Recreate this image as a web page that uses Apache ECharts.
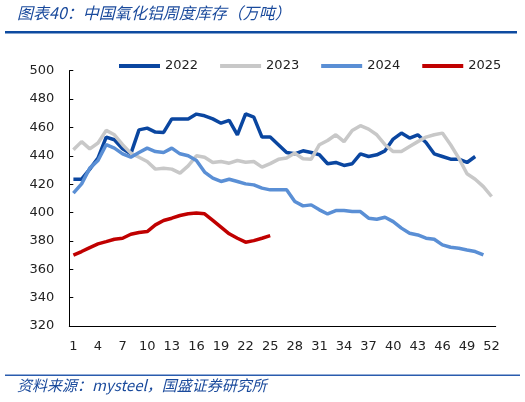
<!DOCTYPE html>
<html>
<head>
<meta charset="utf-8">
<script src="https://cdn.jsdelivr.net/npm/echarts@6/dist/echarts.min.js"></script>
<style>
html,body{margin:0;padding:0;background:#fff;}
#c{width:525px;height:402px;}
</style>
</head>
<body>
<div id="c"></div>
<script>
var weeks = [];
for (var w = 1; w <= 52; w++) weeks.push(String(w));

var seriesNames = ['2022', '2023', '2024', '2025'];

var d2022 = [423.5,423.5,430.6,438.4,453.2,451.3,445,441.4,458.3,459.5,
             456.7,456.5,466,466,466,469.4,468.2,466,463,465,
             454.8,469.5,467.3,453.2,453.2,447.8,442.3,441.4,443.5,442.3,
             440.7,434.4,435.3,433.2,434.4,441.4,439.5,440.7,443.5,451.8,
             456,452.5,454.8,449.4,441.4,439.5,437.6,437.6,435.3,439.5];

var d2023 = [444.2,450,444.9,449,457.9,454.8,447.8,441.9,439,436,
             430.6,431.3,430.6,427.8,432.9,440,439,435.3,436,434.8,
             436.7,435.5,436,432,434.5,437.5,438.5,441.9,437.9,437.6,
             447.8,450.8,454.8,450,457.9,461.2,458.8,454.8,447.8,443,
             443,446.6,450,453.2,454.8,456,447.8,438.4,427.3,423.5,
             418.3,411.3];

var d2024 = [413.7,420.2,431.3,436.7,447.8,445.4,441.4,439,442.3,445.4,
             443,442.3,445.4,441.4,440,436.7,428.5,424.2,421.9,423.5,
             421.9,420.2,419.5,417.2,416,416,416,407.8,404.7,405.4,
             401.9,399,401.4,401.4,400.7,400.7,396,395.3,396.7,393.6,
             389,385.4,384.2,381.9,381.2,377.2,375.5,374.8,373.6,372.5,
             370.1];

var d2025 = [370,372.5,375.3,377.9,379.5,381.2,381.9,384.7,385.9,386.6,
             391.3,394.4,396,397.9,399.1,399.6,399.1,394.4,389.7,385,
             381.9,379.1,380.2,381.9,383.7];

var colors = ['#0a46a0', '#c8c8c8', '#5a8fd5', '#c00000'];
var allData = [d2022, d2023, d2024, d2025];

var chart = echarts.init(document.getElementById('c'), null, {renderer: 'canvas'});

var series = seriesNames.map(function (n, i) {
  return {
    name: n,
    type: 'line',
    data: allData[i],
    symbol: 'none',
    smooth: false,
    lineStyle: {width: 3.5, color: colors[i]},
    itemStyle: {color: colors[i]},
    z: 2 + i
  };
});

chart.setOption({
  animation: false,
  backgroundColor: '#fff',
  textStyle: {fontFamily: 'DejaVu Sans'},
  graphic: [
    {type: 'text', left: 17, top: 5,
     style: {text: '图表40：中国氧化铝周度库存（万吨）', fill: '#1a4a9c',
             font: 'italic 16px "Noto Sans CJK SC"'}},
    {type: 'rect', shape: {x: 5, y: 31, width: 512, height: 2.5},
     style: {fill: '#0d4aa0'}},
    {type: 'rect', shape: {x: 5, y: 374.5, width: 515, height: 1.5},
     style: {fill: '#2a5cae'}},
    {type: 'text', left: 17, top: 378,
     style: {text: '资料来源：mysteel，国盛证券研究所', fill: '#1a4a9c',
             font: 'italic 15px "Noto Sans CJK SC"'}}
  ],
  legend: {
    data: seriesNames,
    left: 119,
    top: 59.5,
    padding: 0,
    itemGap: 22,
    itemWidth: 41,
    itemHeight: 4,
    icon: 'rect',
    textStyle: {fontSize: 13, color: '#222', fontFamily: 'DejaVu Sans'}
  },
  grid: {left: 69.3, right: 29.3, top: 70.7, bottom: 76, containLabel: false},
  xAxis: {
    type: 'category',
    data: weeks,
    boundaryGap: true,
    axisLine: {lineStyle: {color: '#000', width: 1}},
    axisTick: {inside: true, length: 4, interval: 2, lineStyle: {color: '#000'}},
    axisLabel: {interval: 2, color: '#222', fontSize: 13, margin: 14,
                fontFamily: 'DejaVu Sans'},
    splitLine: {show: false}
  },
  yAxis: {
    type: 'value',
    min: 320,
    max: 500,
    interval: 20,
    axisLine: {show: true, lineStyle: {color: '#000', width: 1}},
    axisTick: {show: true, inside: true, length: 4, lineStyle: {color: '#000'}},
    axisLabel: {color: '#222', fontSize: 13, margin: 15, fontFamily: 'DejaVu Sans'},
    splitLine: {show: false}
  },
  series: series
});
</script>
</body>
</html>
